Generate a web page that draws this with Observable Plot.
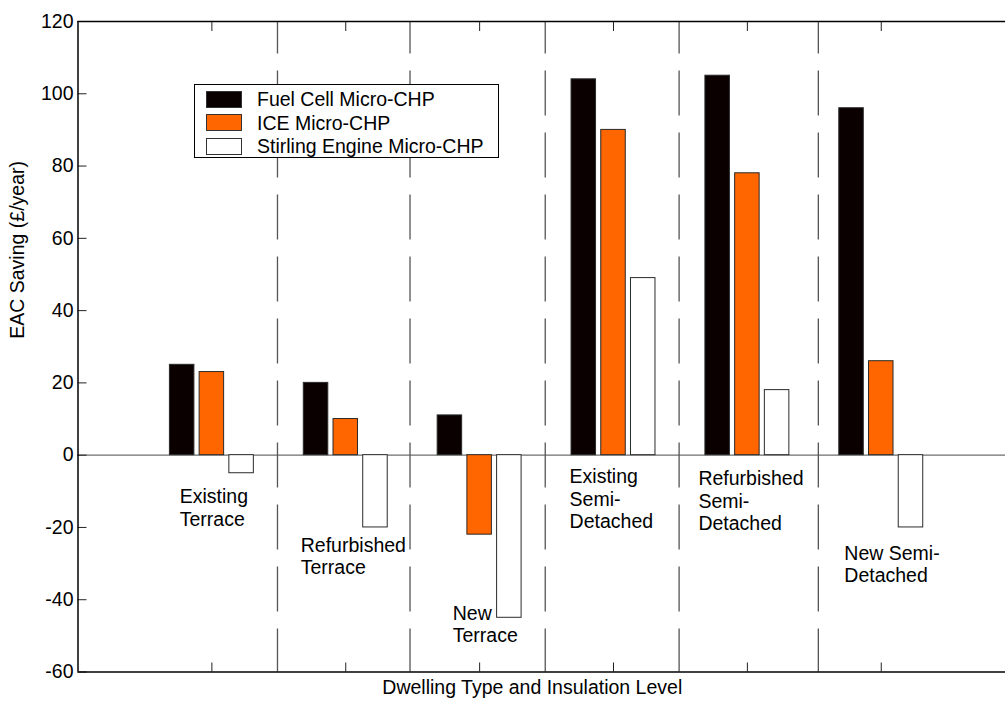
<!DOCTYPE html>
<html>
<head>
<meta charset="utf-8">
<script src="https://cdn.jsdelivr.net/npm/d3@7"></script>
<script src="https://cdn.jsdelivr.net/npm/@observablehq/plot@0.6"></script>
<style>
  html, body { margin: 0; padding: 0; background: #fff; overflow: hidden; }
  #wrap { position: relative; width: 1005px; height: 702px; font-family: "Liberation Sans", Arial, Helvetica, sans-serif; }
  #legend { position: absolute; left: 194px; top: 84px; width: 303px; height: 72px; border: 1.5px solid #000; background: #fff; }
  .row { position: absolute; left: 0; height: 24px; display: flex; align-items: center; font-size: 19.5px; color: #000; }
  .sw { position: absolute; left: 11px; width: 36px; height: 17px; border: 1px solid #333; box-sizing: border-box; }
  .lab { position: absolute; left: 62px; white-space: nowrap; line-height: 24px; }
</style>
</head>
<body>
<div id="wrap"><div id="chart"></div><div id="legend"></div></div>
<script>
// ---- data ----
const categories = ["Existing Terrace", "Refurbished Terrace", "New Terrace",
  "Existing Semi-Detached", "Refurbished Semi-Detached", "New Semi-Detached"];
const categoryLabels = ["Existing\nTerrace", "Refurbished\nTerrace", "New\nTerrace",
  "Existing\nSemi-\nDetached", "Refurbished\nSemi-\nDetached", "New Semi-\nDetached"];
const seriesNames = ["Fuel Cell Micro-CHP", "ICE Micro-CHP", "Stirling Engine Micro-CHP"];
const fuelCell = [25, 20, 11, 104, 105, 96];
const iceCHP = [23, 10, -22, 90, 78, 26];
const stirling = [-5, -20, -45, 49, 18, -20];
const yTicks = [-60, -40, -20, 0, 20, 40, 60, 80, 100, 120];
const xTicks = [1, 2, 3, 4, 5, 6];
const separators = [1.49, 2.48, 3.49, 4.49, 5.53];
// annotation anchor points (data coords) for the category labels
const labelX = [0.76, 1.664, 2.799, 3.672, 4.634, 5.724];
const labelY = [-8.9, -22.3, -41.1, -3.4, -3.9, -24.6];

const seriesColors = ["#0a0000", "#ff6600", "#ffffff"];
const seriesOffset = [-0.222, 0, 0.222];
const barWidth = 0.183;

const allSeries = [fuelCell, iceCHP, stirling];
const rows = [];
allSeries.forEach((vals, s) => vals.forEach((v, i) => rows.push({cat: i + 1, s, series: seriesNames[s], value: v})));
const labels = categoryLabels.map((t, i) => ({t, x: labelX[i], y: labelY[i]}));

const fs = 19.5;
const chart = Plot.plot({
  width: 1005,
  height: 702,
  marginLeft: 77.5,
  marginRight: 0,
  marginTop: 21,
  marginBottom: 30.5,
  style: {fontFamily: '"Liberation Sans", Arial, Helvetica, sans-serif', fontSize: fs + "px", background: "#fff", color: "#000"},
  x: {domain: [0, 6.928], axis: null},
  y: {domain: [-60, 120], axis: null},
  color: {domain: seriesNames, range: seriesColors},
  marks: [
    Plot.ruleY([0], {stroke: "#6e6e6e", strokeWidth: 1.3}),
    Plot.ruleX(separators, {y1: -60, y2: 120, stroke: "#555", strokeWidth: 1.3, strokeDasharray: "45,17", strokeDashoffset: 2}),
    Plot.rect(rows, {
      x1: d => d.cat + seriesOffset[d.s] - barWidth / 2,
      x2: d => d.cat + seriesOffset[d.s] + barWidth / 2,
      y1: 0, y2: "value", fill: "series", stroke: "#2a2a2a", strokeWidth: 1
    }),
    Plot.text(labels, {x: "x", y: "y", text: "t", textAnchor: "start", lineAnchor: "top", lineHeight: 1.15, fontSize: fs, fill: "#000"}),
    Plot.axisY(yTicks, {anchor: "left", tickSize: -9, tickPadding: 13.5, tickFormat: d => String(d), fontSize: fs, label: null, stroke: "#222", fill: "#000"}),
    Plot.axisX(xTicks, {anchor: "bottom", tickSize: -9, tickFormat: () => "", label: null, stroke: "#222"}),
    Plot.axisX(xTicks, {anchor: "top", tickSize: -9, tickFormat: () => "", label: null, stroke: "#222"}),
    Plot.ruleY([-60, 120], {stroke: "#000", strokeWidth: 1.5}),
    Plot.ruleX([0], {stroke: "#000", strokeWidth: 1.5}),
    Plot.text(["EAC Saving (£/year)"], {text: d => d, frameAnchor: "left", dx: -60.5, dy: -8, rotate: -90, fontSize: fs, fill: "#000"}),
    Plot.text(["Dwelling Type and Insulation Level"], {text: d => d, frameAnchor: "bottom", dx: -9.5, dy: 21.5, lineAnchor: "bottom", fontSize: fs, fill: "#000"})
  ]
});
document.getElementById("chart").appendChild(chart);

// legend
const legend = document.getElementById("legend");
seriesNames.forEach((name, i) => {
  const row = document.createElement("div");
  row.className = "row";
  row.style.top = (2 + i * 23.6) + "px";
  row.style.width = "300px";
  const sw = document.createElement("div");
  sw.className = "sw";
  sw.style.background = seriesColors[i];
  sw.style.top = "3.5px";
  const lab = document.createElement("div");
  lab.className = "lab";
  lab.textContent = name;
  row.appendChild(sw);
  row.appendChild(lab);
  legend.appendChild(row);
});
</script>
</body>
</html>
